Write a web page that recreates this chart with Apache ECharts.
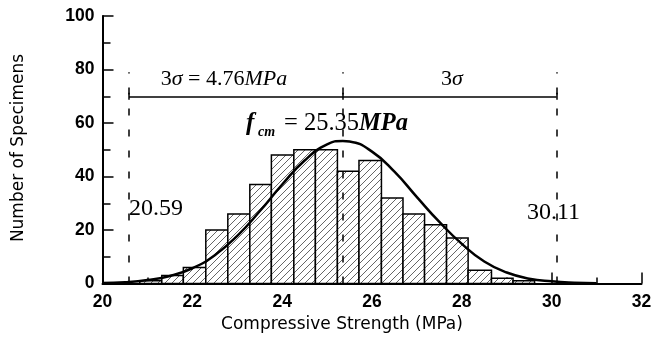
<!DOCTYPE html>
<html><head><meta charset="utf-8">
<script src="https://cdn.jsdelivr.net/npm/echarts@6/dist/echarts.min.js"></script>
<style>html,body{margin:0;padding:0;background:#fff}#c{width:654px;height:339px}</style>
</head><body><div id="c"></div>
<script>
// ---- data ----
const binStart = [20.83, 21.32, 21.80, 22.30, 22.79, 23.28, 23.76, 24.26, 24.74, 25.23, 25.71, 26.21, 26.69, 27.17, 27.66, 28.14, 28.66, 29.14];
const binEnd   = [21.32, 21.80, 22.30, 22.79, 23.28, 23.76, 24.26, 24.74, 25.23, 25.71, 26.21, 26.69, 27.17, 27.66, 28.14, 28.66, 29.14, 29.62];
const counts   = [1, 3, 6, 20, 26, 37, 48, 50, 50, 42, 46, 32, 26, 22, 17, 5, 2, 1];
const curveX = [20, 20.5, 21, 21.5, 22, 22.5, 23, 23.5, 24, 24.5, 25, 25.35, 25.5, 26, 26.5, 27, 27.5, 28, 28.5, 29, 29.5, 30, 30.5, 31];
const curveY = [0.2, 0.5, 1.3, 2.8, 5.7, 10.6, 17.8, 27, 37, 46, 52, 53.3, 53.1, 49.3, 41.8, 32.3, 23, 14.8, 8.2, 4.1, 1.8, 0.8, 0.3, 0.1];
const limitX = [20.59, 25.35, 30.11];
const limitTop = 79;
const sigmaLineY = 70;
const xMin = 20, xMax = 32, xStep = 2;
const yMin = 0, yMax = 100, yStep = 20;
const xTitle = 'Compressive Strength (MPa)';
const yTitle = 'Number of Specimens';

// hatch pattern
const tile = document.createElement('canvas');
tile.width = 7; tile.height = 7;
(function(){
  const g = tile.getContext('2d');
  g.fillStyle = '#fff'; g.fillRect(0,0,7,7);
  g.strokeStyle = '#555'; g.lineWidth = 0.9;
  g.beginPath();
  g.moveTo(-1, 8); g.lineTo(8, -1);
  g.moveTo(-4, 4); g.lineTo(4, -4);
  g.moveTo(3, 11); g.lineTo(11, 3);
  g.stroke();
})();
const hatch = { image: tile, repeat: 'repeat' };

const bins = binStart.map((s, i) => [s, binEnd[i], counts[i]]);
const curve = curveX.map((x, i) => [x, curveY[i]]);

const dashedLines = limitX.map(x => [{ coord: [x, 0] }, { coord: [x, limitTop] }]);
const sigmaLines = [[{ coord: [limitX[0], sigmaLineY] }, { coord: [limitX[2], sigmaLineY] }]]
  .concat(limitX.map(x => [{ coord: [x, sigmaLineY - 1.3] }, { coord: [x, sigmaLineY + 1.3] }]));

const chart = echarts.init(document.getElementById('c'), null, { renderer: 'canvas' });
const serif = '"Liberation Serif", "Times New Roman", serif';
const tickFont = '"Liberation Sans", Arial, sans-serif';
chart.setOption({
  animation: false,
  backgroundColor: '#fff',
  grid: { left: 102.5, right: 12.5, top: 16, bottom: 55.5, outerBoundsMode: 'none' },
  xAxis: {
    type: 'value', min: xMin, max: xMax, interval: xStep,
    axisLine: { show: true, onZero: false, lineStyle: { color: '#000', width: 2 } },
    axisTick: { show: true, inside: true, length: 11, lineStyle: { color: '#000', width: 1.5 } },
    minorTick: { show: true, splitNumber: 2, length: 6, lineStyle: { color: '#000', width: 1.5 } },
    splitLine: { show: false },
    axisLabel: { color: '#000', fontFamily: tickFont, fontWeight: 'bold', fontSize: 17.5, margin: 10 }
  },
  yAxis: {
    type: 'value', min: yMin, max: yMax, interval: yStep,
    axisLine: { show: true, lineStyle: { color: '#000', width: 2 } },
    axisTick: { show: true, inside: true, length: 11, lineStyle: { color: '#000', width: 1.5 } },
    minorTick: { show: true, splitNumber: 2, length: 8, lineStyle: { color: '#000', width: 1.5 } },
    splitLine: { show: false },
    axisLabel: { color: '#000', fontFamily: tickFont, fontWeight: 'bold', fontSize: 17.5, margin: 8 }
  },
  series: [
    {
      type: 'line', data: [], z: 1, silent: true,
      markLine: {
        silent: true, symbol: 'none', label: { show: false }, animation: false,
        lineStyle: { color: '#000', width: 1.5, type: [7, 14] },
        data: dashedLines
      }
    },
    {
      type: 'custom', z: 2, silent: true,
      data: bins,
      renderItem: function (params, api) {
        const p0 = api.coord([api.value(0), api.value(2)]);
        const p1 = api.coord([api.value(1), 0]);
        return {
          type: 'rect',
          shape: { x: p0[0], y: p0[1], width: p1[0] - p0[0], height: p1[1] - p0[1] },
          style: { fill: hatch, stroke: '#000', lineWidth: 1.5 }
        };
      }
    },
    {
      type: 'line', z: 3, silent: true, data: curve, smooth: 0.5, symbol: 'none',
      lineStyle: { color: '#000', width: 2.5 },
      markLine: {
        silent: true, symbol: 'none', label: { show: false }, animation: false,
        lineStyle: { color: '#000', width: 1.5, type: 'solid' },
        data: sigmaLines
      }
    }
  ],
  graphic: [
    { type: 'text', x: 224, y: 79, z: 10,
      style: { text: '{n|3}{i|σ}{n| = 4.76}{i|MPa}', align: 'center', verticalAlign: 'middle',
        rich: { n: { fontSize: 22, fontFamily: serif, fill: '#000' }, i: { fontSize: 22, fontStyle: 'italic', fontFamily: serif, fill: '#000' } } } },
    { type: 'text', x: 452, y: 79, z: 10,
      style: { text: '{n|3}{i|σ}', align: 'center', verticalAlign: 'middle',
        rich: { n: { fontSize: 22, fontFamily: serif, fill: '#000' }, i: { fontSize: 22, fontStyle: 'italic', fontFamily: serif, fill: '#000' } } } },
    { type: 'text', x: 246, y: 124, z: 10,
      style: { text: 'f', fontSize: 25, fontStyle: 'italic', fontWeight: 'bold', fontFamily: serif, fill: '#000', align: 'left', verticalAlign: 'middle' } },
    { type: 'text', x: 258, y: 132, z: 10,
      style: { text: 'cm', fontSize: 14, fontStyle: 'italic', fontWeight: 'bold', fontFamily: serif, fill: '#000', align: 'left', verticalAlign: 'middle' } },
    { type: 'text', x: 284, y: 124, z: 10,
      style: { text: '{n|= 25.35}{i|MPa}', align: 'left', verticalAlign: 'middle',
        rich: { n: { fontSize: 24.5, fontFamily: serif, fill: '#000' }, i: { fontSize: 24.5, fontStyle: 'italic', fontWeight: 'bold', fontFamily: serif, fill: '#000' } } } },
    { type: 'text', x: 129, y: 209, z: 10,
      style: { text: '20.59', fontSize: 24, fontFamily: serif, fill: '#000', align: 'left', verticalAlign: 'middle' } },
    { type: 'text', x: 527, y: 213, z: 10,
      style: { text: '30.11', fontSize: 24, fontFamily: serif, fill: '#000', align: 'left', verticalAlign: 'middle' } },
    { type: 'text', x: 18.5, y: 148, rotation: Math.PI / 2, z: 10,
      style: { text: yTitle, fontSize: 17, fontFamily: '"DejaVu Sans", sans-serif', fill: '#000', align: 'center', verticalAlign: 'middle' } },
    { type: 'text', x: 342, y: 325, z: 10,
      style: { text: xTitle, fontSize: 17, fontFamily: '"DejaVu Sans", sans-serif', fill: '#000', align: 'center', verticalAlign: 'middle' } }
  ]
});
</script></body></html>
